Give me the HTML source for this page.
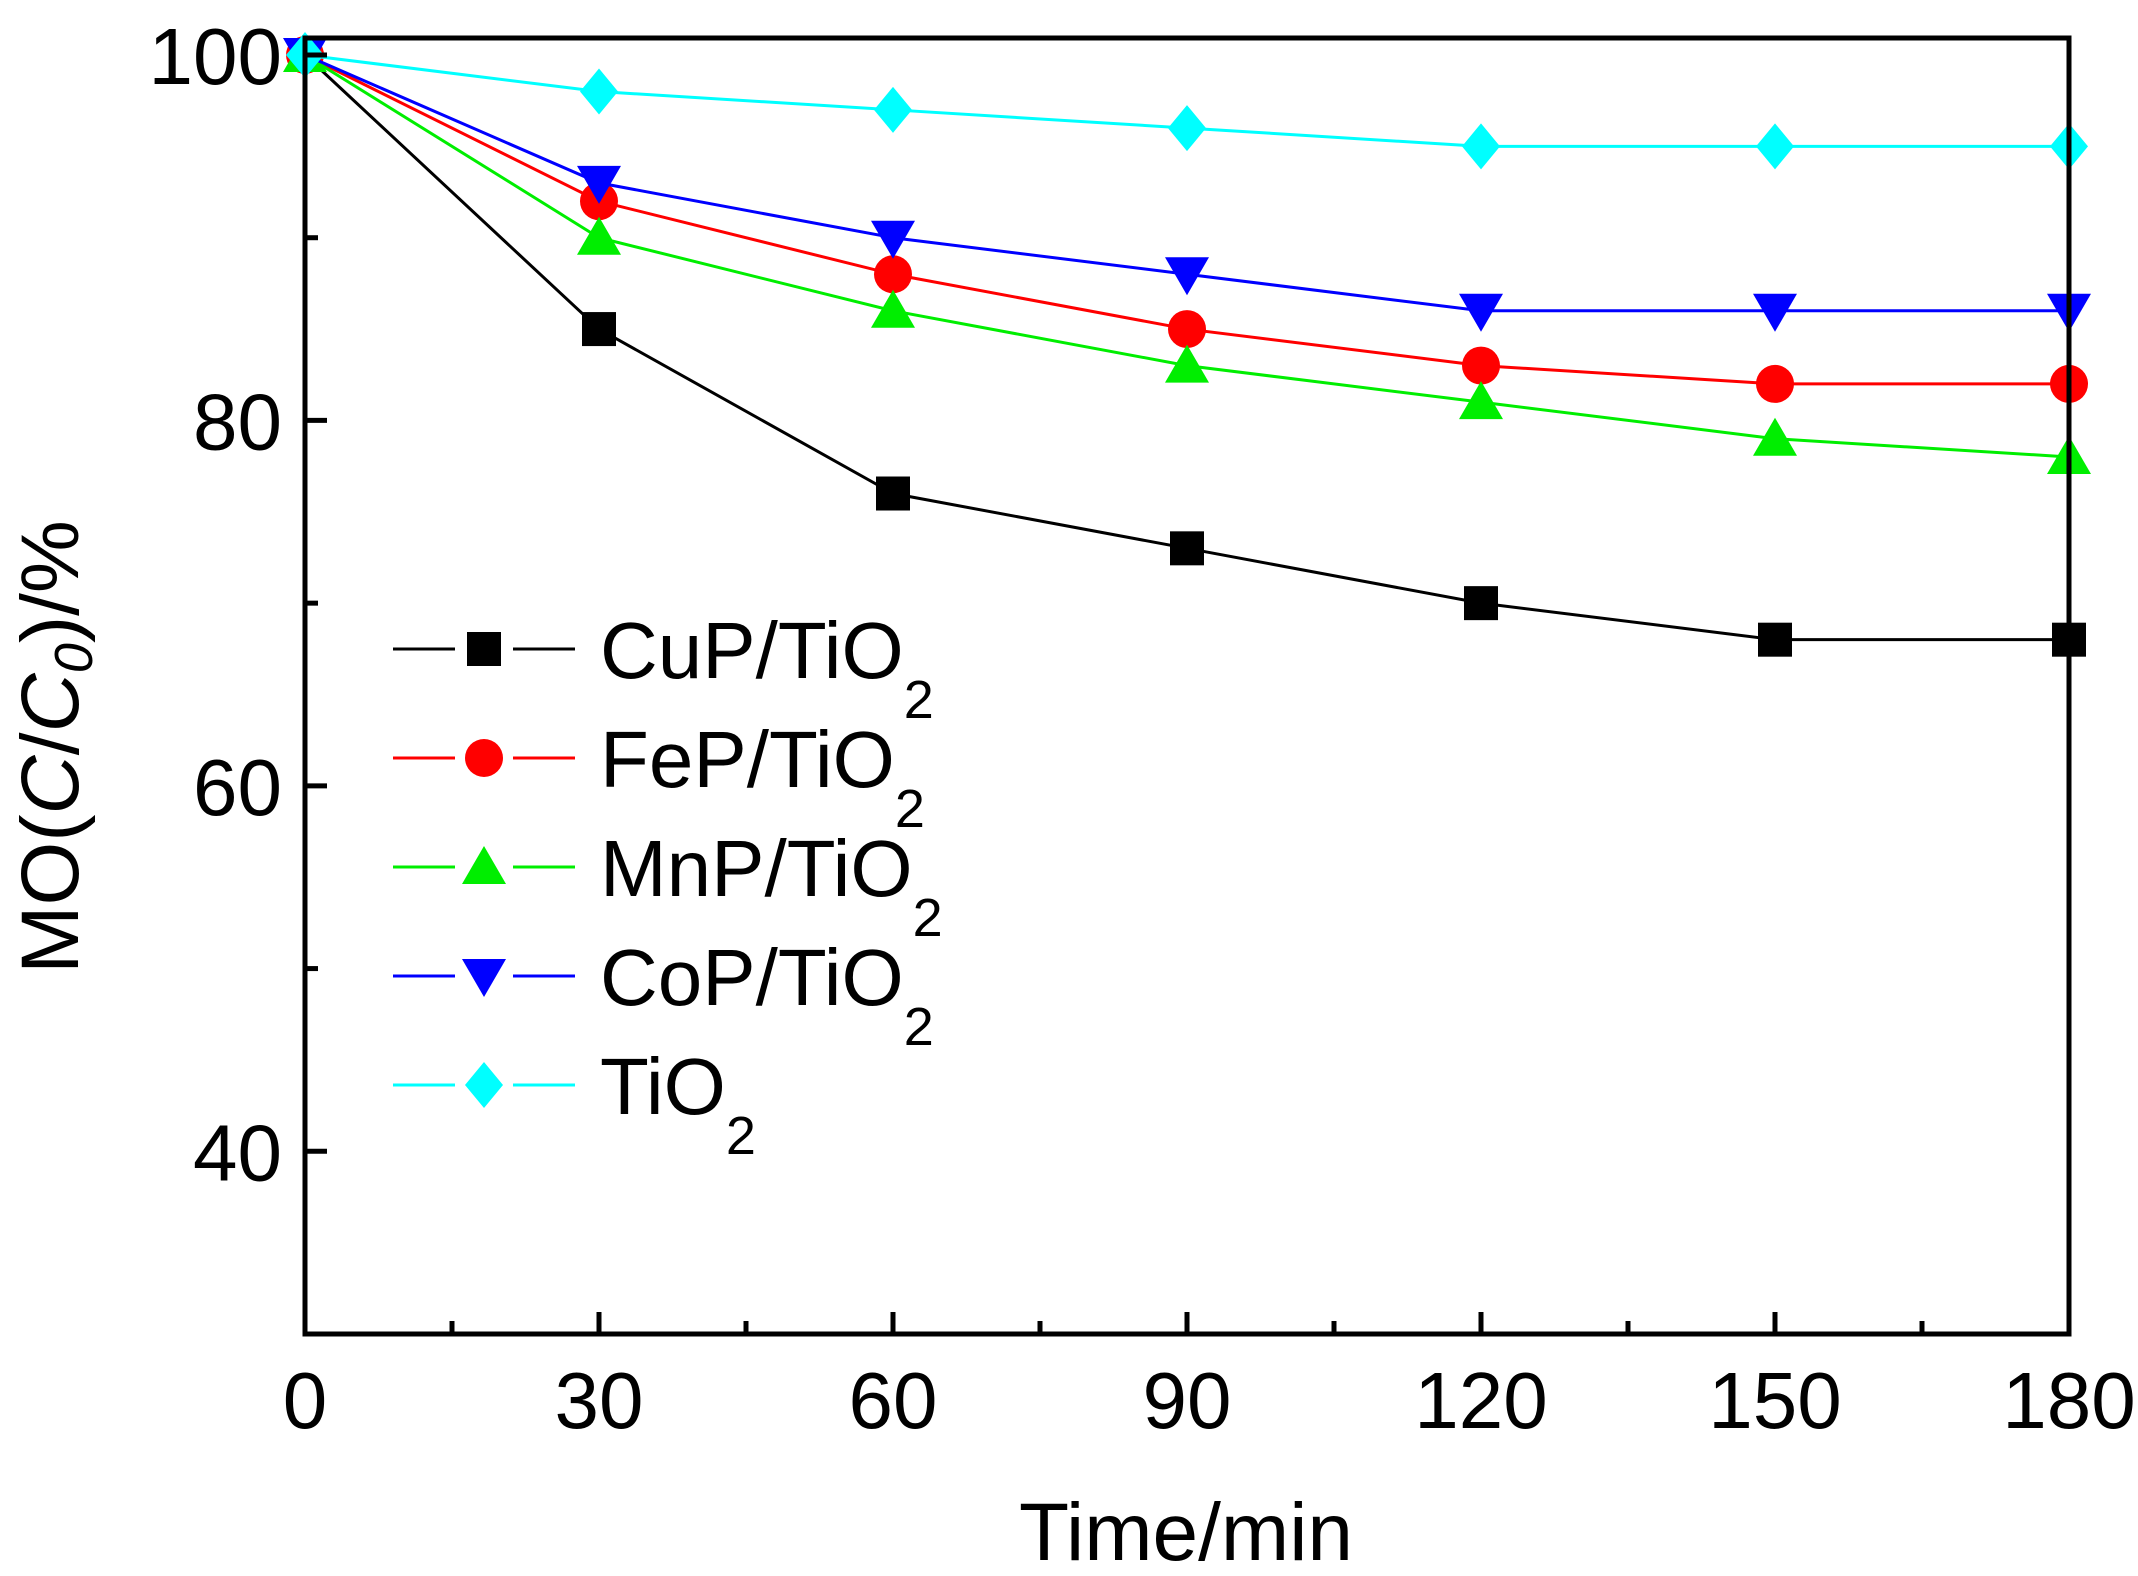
<!DOCTYPE html>
<html><head><meta charset="utf-8"><style>
html,body{margin:0;padding:0;background:#fff;}
svg text{font-family:"Liberation Sans",Arial,sans-serif;fill:#000;}
</style></head><body>
<svg id="chart" width="2138" height="1571" viewBox="0 0 2138 1571" xmlns="http://www.w3.org/2000/svg">
<g id="plot"></g>
<g id="axes"></g>
<g id="legend"></g>
<text x="1186" y="1560" font-size="82" text-anchor="middle">Time/min</text>
<text transform="translate(78,747) rotate(-90)" font-size="82" text-anchor="middle">MO(<tspan font-style="italic">C</tspan>/<tspan font-style="italic">C</tspan><tspan font-style="italic" font-size="54" dy="14">0</tspan><tspan dy="-14">)/%</tspan></text>
</svg>
<script>
const times=[0,30,60,90,120,150,180];
const cuP=[100,85,76,73,70,68,68];
const feP=[100,92,88,85,83,82,82];
const mnP=[100,90,86,83,81,79,78];
const coP=[100,93,90,88,86,86,86];
const tiO2=[100,98,97,96,95,95,95];
const xTicks=[0,30,60,90,120,150,180];
const yTicks=[40,60,80,100];
const yMinor=[50,70,90];
const seriesNames=["CuP/TiO","FeP/TiO","MnP/TiO","CoP/TiO","TiO"];

const NS="http://www.w3.org/2000/svg";
const X0=305,X1=2069,YT=55,YB=1334;
const xs=v=>X0+(v-0)/180*(X1-X0);
const ys=v=>YT+(100-v)/70*(YB-YT);
function mk(tag,attrs,parent){const e=document.createElementNS(NS,tag);for(const k in attrs)e.setAttribute(k,attrs[k]);parent.appendChild(e);return e;}
const plot=document.getElementById('plot'),axes=document.getElementById('axes'),leg=document.getElementById('legend');

function marker(type,cx,cy,color,parent){
  let e;
  if(type==='square') e=mk('rect',{x:cx-17,y:cy-17,width:34,height:34,fill:color},parent);
  else if(type==='circle') e=mk('circle',{cx:cx,cy:cy,r:19,fill:color},parent);
  else if(type==='up') e=mk('polygon',{points:`${cx},${cy-21} ${cx-22},${cy+17} ${cx+22},${cy+17}`,fill:color},parent);
  else if(type==='down') e=mk('polygon',{points:`${cx},${cy+21} ${cx-22},${cy-17} ${cx+22},${cy-17}`,fill:color},parent);
  else e=mk('polygon',{points:`${cx},${cy-23} ${cx+19},${cy} ${cx},${cy+23} ${cx-19},${cy}`,fill:color},parent);
  return e;
}
const series=[[cuP,'#000','square','cup'],[feP,'#ff0000','circle','fep'],[mnP,'#00ee00','up','mnp'],[coP,'#0000ff','down','cop'],[tiO2,'#00ffff','diamond','tio2']];
series.forEach(([vals,col,m,id])=>{
  const pl=mk('polyline',{points:vals.map((v,i)=>xs(times[i])+','+ys(v)).join(' '),fill:'none',stroke:col,'stroke-width':3},plot);
  
  
  vals.forEach((v,i)=>{
    const e=marker(m,xs(times[i]),ys(v),col,plot);
    
    
  });
});
const fr=mk('rect',{x:X0,y:38,width:X1-X0,height:YB-38,fill:'none',stroke:'#000','stroke-width':5},axes);


xTicks.forEach(t=>{
  const l=mk('line',{x1:xs(t),x2:xs(t),y1:YB,y2:YB-22,stroke:'#000','stroke-width':5},axes);
  
  
  const tx=mk('text',{x:xs(t),y:1428,'font-size':80,'text-anchor':'middle'},axes);
  tx.textContent=t;
  
  
});
xTicks.slice(0,-1).forEach(t=>{
  const l=mk('line',{x1:xs(t+15),x2:xs(t+15),y1:YB,y2:YB-13,stroke:'#000','stroke-width':5},axes);
  
  
});
yTicks.forEach(t=>{
  const l=mk('line',{x1:X0,x2:X0+22,y1:ys(t),y2:ys(t),stroke:'#000','stroke-width':5},axes);
  
  
  const tx=mk('text',{x:282,y:ys(t)+29,'font-size':80,'text-anchor':'end'},axes);
  tx.textContent=t;
  
  
});
yMinor.forEach(t=>{
  const l=mk('line',{x1:X0,x2:X0+13,y1:ys(t),y2:ys(t),stroke:'#000','stroke-width':5},axes);
  
  
});
series.forEach(([vals,col,m,id],i)=>{
  const y=649+i*109;
  const g=mk('g',{},leg);
  
  
  mk('line',{x1:393,x2:455,y1:y,y2:y,stroke:col,'stroke-width':3},g);
  mk('line',{x1:513,x2:575,y1:y,y2:y,stroke:col,'stroke-width':3},g);
  marker(m,484,y,col,g);
  const tx=mk('text',{x:600,y:y+29,'font-size':80},g);
  tx.textContent=seriesNames[i];
  const s=mk('tspan',{'font-size':54,dy:40},tx);
  s.textContent='2';
});
</script>
</body></html>
